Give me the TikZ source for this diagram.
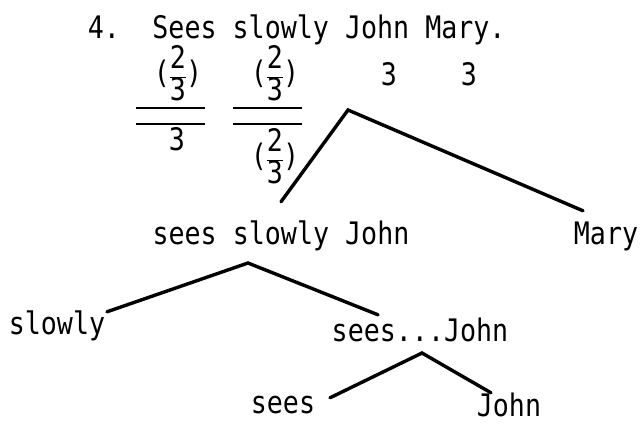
\documentclass[tikz,border=0pt]{standalone}
\usepackage{fontspec}
\setmonofont[FakeStretch=0.86]{DejaVu Sans Mono}
\usepackage{tikz}
\usetikzlibrary{positioning}

\newcommand{\twothirds}{{\def\arraystretch{0.78}\setlength{\arrayrulewidth}{0.8pt}%
  (\begin{tabular}{@{}c@{}}2\\\hline 3\end{tabular})}}

\tikzset{
  word/.style={anchor=base, inner sep=0pt, text height=22pt, text depth=2pt},
  branch/.style={line width=3.4pt, line cap=round},
  rule/.style={line width=1.6pt}
}

\begin{document}
\begin{tikzpicture}[x=1pt, y=-1pt, every node/.style={font=\fontsize{31}{34}\selectfont\ttfamily}]
    \useasboundingbox (0,0) rectangle (641,424);
    \node[word] (num) at (104,38) {4.};
    \node[word] (sent) at (329,38) {Sees slowly John Mary.};
    \node (fracA) at (178,77) {\twothirds};
    \node (fracB) at (275,77) {\twothirds};
    \draw[rule] (136,108) -- (205,108) (136,124) -- (205,124);
    \draw[rule] (233,108) -- (302,108) (233,124) -- (302,124);
    \node[word] (denA) at (177,150) {3};
    \node (denB) at (275,160) {\twothirds};
    \node[word] (valJ) at (389,85) {3};
    \node[word] (valM) at (469,85) {3};
    \node[word] (ssj) at (281,244) {sees slowly John};
    \node[word] (mary) at (606,244) {Mary};
    \node[word] (slowly) at (57,334) {slowly};
    \node[word] (sj) at (420,341) {sees...John};
    \node[word] (sees) at (283,413) {sees};
    \node[word] (john) at (509,416) {John};
    \coordinate (topfork) at (348,110);
    \coordinate (midfork) at (248,263);
    \coordinate (lowfork) at (422,353);
    \draw[branch] ([yshift=20pt]ssj.north) -- (topfork) -- ([shift={(-23pt,11pt)}]mary.north);
    \draw[branch] ([xshift=50pt]slowly.north) -- (midfork) -- ([shift={(-42pt,4pt)}]sj.north);
    \draw[branch] ([shift={(47pt,-7pt)}]sees.north) -- (lowfork) -- ([shift={(-18pt,1pt)}]john.north);
  \end{tikzpicture}
\end{document}
